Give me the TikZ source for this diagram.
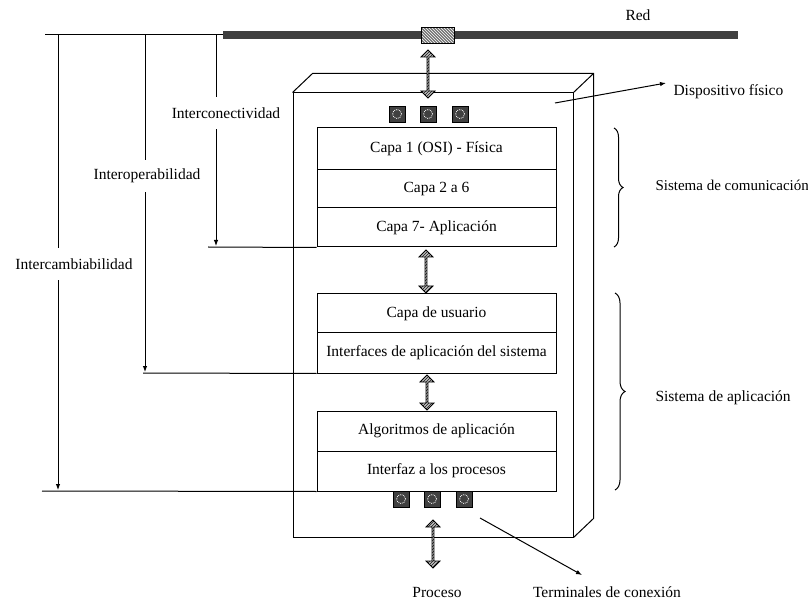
\documentclass[tikz,border=0pt]{standalone}
\usepackage{fontspec}
\setmainfont{Liberation Serif}
\usetikzlibrary{shapes.arrows,patterns,decorations.pathreplacing,arrows.meta}
\begin{document}
\begin{tikzpicture}[x=1pt,y=-1pt,
  every node/.style={font=\fontsize{15.5}{18}\selectfont},
  layer/.style={draw, line width=1pt, minimum width=239pt, inner sep=0pt},
  harrow/.style={double arrow, rotate=90, draw, line width=0.8pt, inner sep=0pt,
     minimum width=14pt, double arrow head extend=2.5pt,
     preaction={fill=black!25}, pattern=north east lines, pattern color=black!90},
  sq/.style={draw, fill=black!75, minimum size=16pt, inner sep=0pt,
     path picture={\draw[white, densely dotted, line width=0.8pt] (path picture bounding box.center) circle (4.5pt);}},
  arr/.style={-{Latex[length=6pt,width=4.5pt]}, line width=1pt},
  ln/.style={line width=1pt},
  lbl/.style={minimum height=32pt, inner sep=2pt},
  brc/.style={line width=1pt, decorate, decoration={brace, amplitude=9pt}}
]
\useasboundingbox (0,0) rectangle (808,601);

% network
\node[fill=black!75, minimum width=515pt, minimum height=8pt, inner sep=0pt] (red) at (480.5,35) {};
\node[draw, line width=0.6pt, minimum width=33pt, minimum height=16pt, inner sep=0pt,
      preaction={fill=black!55}, pattern=north west lines, pattern color=white] (hb) at (437.5,35.5) {};
\node (redl) at (638,15) {Red};
\coordinate (netL) at (45,35);
\draw[ln] (netL) -- (red.west);

% device
\node[draw, line width=1pt, minimum width=280pt, minimum height=444pt, inner sep=0pt] (dev) at (433,315) {};
\draw[line width=1pt] (dev.north west) -- ++(20,-19) -- ([shift={(20,-19)}]dev.north east)
   -- ([shift={(20,-19)}]dev.south east) -- (dev.south east);
\draw[line width=1pt] (dev.north east) -- ++(20,-19);

% terminals
\node[sq] (t1) at (397,114) {};
\node[sq] (t2) at (428,114) {};
\node[sq] (t3) at (460,114) {};
\node[sq] (b1) at (401,499) {};
\node[sq] (b2) at (432,499) {};
\node[sq] (b3) at (464,499) {};

% layers
\node[layer, minimum height=42pt] (L1) at (436.5,149) {Capa 1 (OSI) - Física};
\node[layer, minimum height=38pt] (L2) at (436.5,189) {Capa 2 a 6};
\node[layer, minimum height=39pt] (L7) at (436.5,227.5) {Capa 7- Aplicación};
\node[layer, minimum height=39pt] (U) at (436.5,313.5) {Capa de usuario};
\node[layer, minimum height=40pt] (I) at (436.5,353) {Interfaces de aplicación del sistema};
\node[layer, minimum height=40pt] (A) at (436.5,431) {Algoritmos de aplicación};
\node[layer, minimum height=40pt] (P) at (436.5,471) {Interfaz a los procesos};

% hatched double arrows
\node[harrow, minimum height=48pt] (a1) at (428,74) {};
\node[harrow, minimum height=43pt] (a2) at (426,271.5) {};
\node[harrow, minimum height=35pt] (a3) at (427,392.5) {};
\node[harrow, minimum height=48pt] (a4) at (433,544) {};

% braces
\coordinate (bc1) at (614,128); \coordinate (bc2) at (614,247);
\draw[brc] (bc1) -- (bc2);
\coordinate (ba1) at (615,293); \coordinate (ba2) at (615,490);
\draw[brc, decoration={amplitude=10pt}] (ba1) -- (ba2);
\node[anchor=west, font=\fontsize{15}{18}\selectfont] (sc) at (652,185) {Sistema de comunicación};
\node[anchor=west] (sa) at (652,398) {Sistema de aplicación};

% physical device label
\node[anchor=west] (df) at (670,92) {Dispositivo físico};
\coordinate (dS) at (555,103); \coordinate (dT) at (666,83);
\draw[arr] (dS) -- (dT);

% bottom labels
\node (pr) at (437,592) {Proceso};
\node (tc) at (607,592) {Terminales de conexión};
\coordinate (tS) at (480,518); \coordinate (tT) at (582,575);
\draw[arr] (tS) -- (tT);

% left side
\node[lbl] (lx) at (74,264) {Intercambiabilidad};
\node[lbl] (lo) at (147,176) {Interoperabilidad};
\node[lbl] (lc) at (226,113) {Interconectividad};

\coordinate (xT) at (58,35); \coordinate (xB) at (58,490); \coordinate (xL) at (42,491);
\draw[ln] (xT) -- (lx.north -| xT);
\draw[arr] (lx.south -| xT) -- (xB);
\draw[ln] (xL) -- (P.south west);

\coordinate (oT) at (145,35); \coordinate (oB) at (145,372); \coordinate (oL) at (143,373);
\draw[ln] (oT) -- (lo.north -| oT);
\draw[arr] (lo.south -| oT) -- (oB);
\draw[ln] (oL) -- (I.south west);

\coordinate (cT) at (216,35); \coordinate (cB) at (216,246); \coordinate (cL) at (208,247);
\draw[ln] (cT) -- (lc.north -| cT);
\draw[arr] (lc.south -| cT) -- (cB);
\draw[ln] (cL) -- (L7.south west);
\end{tikzpicture}
\end{document}
